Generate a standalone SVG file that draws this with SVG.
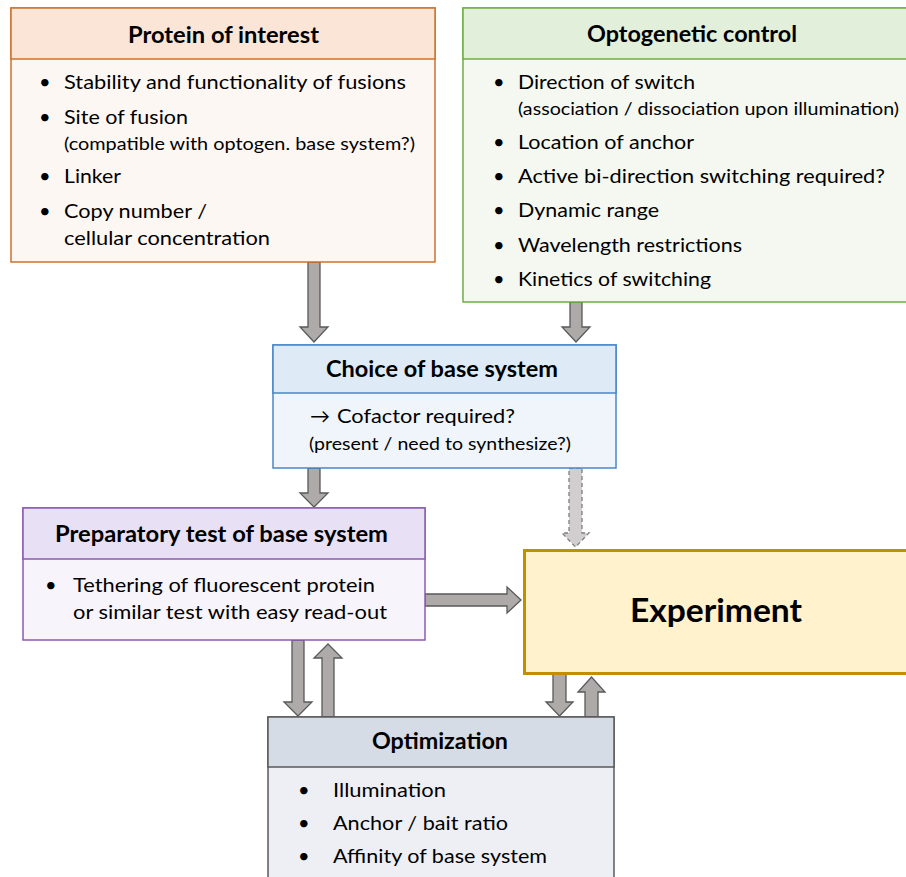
<svg xmlns="http://www.w3.org/2000/svg" width="906" height="877" viewBox="0 0 906 877">
<style>
text{font-family:Lato,"Open Sans","Liberation Sans",sans-serif;fill:#000}
.t{font-size:22px;font-weight:bold}
.b{font-size:20px}
.s{font-size:17px}
.ar{fill:#aeaaaa;stroke:#595959;stroke-width:1.3}
.ad{fill:#d0cece;stroke:#7f7f7f;stroke-width:1.3;stroke-dasharray:4 3}
</style>
<g id="connectors">
<path class="ar" d="M308,262 H320 V327 H328 L314,342 L300,327 H308 Z"/>
<path class="ar" d="M570,302 H582 V327 H590 L576,342 L562,327 H570 Z"/>
<path class="ar" d="M308,468 H320 V493 H328 L314,507 L300,493 H308 Z"/>
<path class="ad" d="M569,468 H582 V533 H589 L575.5,547 L562,533 H569 Z"/>
<path class="ar" d="M425,594 H507 V587 L521,600 L507,613 V606 H425 Z"/>
<path class="ar" d="M292,640 H304 V702 H312 L298,716 L284,702 H292 Z"/>
<path class="ar" d="M322,717 H334 V658 H342 L328,644 L314,658 H322 Z"/>
<path class="ar" d="M553,674 H566 V702 H573 L559.5,716 L546,702 H553 Z"/>
<path class="ar" d="M585,717 H598 V692 H605 L591.5,677 L578,692 H585 Z"/>
</g>
<g id="protein-of-interest">
<rect x="11" y="8" width="424" height="254" fill="#fdf7f3" stroke="#d0712a" stroke-width="1.5"/>
<rect x="11" y="8" width="424" height="51" fill="#fbe5d6" stroke="#d0712a" stroke-width="1.5"/>
<text class="t" x="128" y="43" textLength="191" lengthAdjust="spacingAndGlyphs">Protein of interest</text>
<text class="b" x="39" y="89">•</text><text class="b" x="64" y="89" textLength="342" lengthAdjust="spacingAndGlyphs">Stability and functionality of fusions</text>
<text class="b" x="39" y="124">•</text><text class="b" x="64" y="124" textLength="124" lengthAdjust="spacingAndGlyphs">Site of fusion</text>
<text class="s" x="64" y="150" textLength="351" lengthAdjust="spacingAndGlyphs">(compatible with optogen. base system?)</text>
<text class="b" x="39" y="183">•</text><text class="b" x="64" y="183" textLength="57" lengthAdjust="spacingAndGlyphs">Linker</text>
<text class="b" x="39" y="218">•</text><text class="b" x="64" y="218" textLength="143" lengthAdjust="spacingAndGlyphs">Copy number /</text>
<text class="b" x="64" y="245" textLength="206" lengthAdjust="spacingAndGlyphs">cellular concentration</text>
</g>
<g id="optogenetic-control">
<rect x="463" y="8" width="450" height="294" fill="#f4f8f1" stroke="#70ad47" stroke-width="1.5"/>
<rect x="463" y="8" width="450" height="51" fill="#e2efda" stroke="#70ad47" stroke-width="1.5"/>
<text class="t" x="587" y="42" textLength="210" lengthAdjust="spacingAndGlyphs">Optogenetic control</text>
<text class="b" x="493" y="89">•</text><text class="b" x="518" y="89" textLength="177" lengthAdjust="spacingAndGlyphs">Direction of switch</text>
<text class="s" x="518" y="115" textLength="381" lengthAdjust="spacingAndGlyphs">(association / dissociation upon illumination)</text>
<text class="b" x="493" y="149">•</text><text class="b" x="518" y="149" textLength="176" lengthAdjust="spacingAndGlyphs">Location of anchor</text>
<text class="b" x="493" y="183">•</text><text class="b" x="518" y="183" textLength="367" lengthAdjust="spacingAndGlyphs">Active bi-direction switching required?</text>
<text class="b" x="493" y="217">•</text><text class="b" x="518" y="217" textLength="141" lengthAdjust="spacingAndGlyphs">Dynamic range</text>
<text class="b" x="493" y="252">•</text><text class="b" x="518" y="252" textLength="224" lengthAdjust="spacingAndGlyphs">Wavelength restrictions</text>
<text class="b" x="493" y="286">•</text><text class="b" x="518" y="286" textLength="193" lengthAdjust="spacingAndGlyphs">Kinetics of switching</text>
</g>
<g id="choice-of-base-system">
<rect x="273" y="345" width="343" height="123" fill="#eff5fb" stroke="#4a86c6" stroke-width="1.5"/>
<rect x="273" y="345" width="343" height="48" fill="#deebf7" stroke="#4a86c6" stroke-width="1.5"/>
<text class="t" x="326" y="377" textLength="232" lengthAdjust="spacingAndGlyphs">Choice of base system</text>
<text class="b" x="310" y="423">→</text>
<text class="b" x="337" y="423" textLength="178" lengthAdjust="spacingAndGlyphs">Cofactor required?</text>
<text class="s" x="309" y="450" textLength="262" lengthAdjust="spacingAndGlyphs">(present / need to synthesize?)</text>
</g>
<g id="preparatory-test">
<rect x="23" y="508" width="402" height="132" fill="#f7f4fb" stroke="#8c5bb0" stroke-width="1.5"/>
<rect x="23" y="508" width="402" height="51" fill="#e8e0f4" stroke="#8c5bb0" stroke-width="1.5"/>
<text class="t" x="55" y="542" textLength="333" lengthAdjust="spacingAndGlyphs">Preparatory test of base system</text>
<text class="b" x="45" y="592">•</text><text class="b" x="73" y="592" textLength="302" lengthAdjust="spacingAndGlyphs">Tethering of fluorescent protein</text>
<text class="b" x="73" y="619" textLength="314" lengthAdjust="spacingAndGlyphs">or similar test with easy read-out</text>
</g>
<g id="experiment">
<rect x="524.5" y="550.5" width="390" height="123" fill="#fff2cc" stroke="#bf9000" stroke-width="3"/>
<text x="630" y="622" font-size="32" font-weight="bold" textLength="172" lengthAdjust="spacingAndGlyphs">Experiment</text>
</g>
<g id="optimization">
<rect x="268" y="717" width="346" height="170" fill="#edeff5" stroke="#595959" stroke-width="1.5"/>
<rect x="268" y="717" width="346" height="50" fill="#d6dce5" stroke="#595959" stroke-width="1.5"/>
<text class="t" x="372" y="749" textLength="136" lengthAdjust="spacingAndGlyphs">Optimization</text>
<text class="b" x="298" y="797">•</text><text class="b" x="333" y="797" textLength="113" lengthAdjust="spacingAndGlyphs">Illumination</text>
<text class="b" x="298" y="830">•</text><text class="b" x="333" y="830" textLength="175" lengthAdjust="spacingAndGlyphs">Anchor / bait ratio</text>
<text class="b" x="298" y="863">•</text><text class="b" x="333" y="863" textLength="214" lengthAdjust="spacingAndGlyphs">Affinity of base system</text>
</g>
</svg>
